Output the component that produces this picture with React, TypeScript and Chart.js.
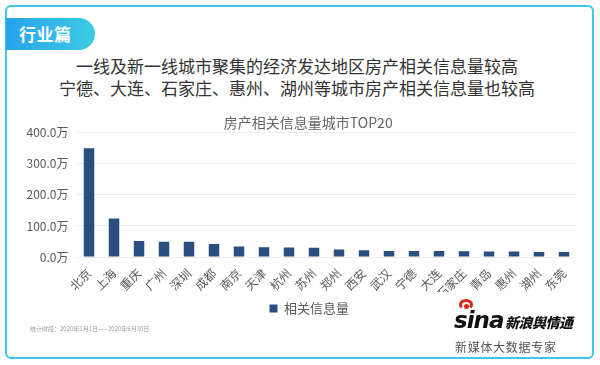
import React, { useEffect, useRef } from "react";
import Chart from "chart.js/auto";

const categories = ["北京", "上海", "重庆", "广州", "深圳", "成都", "南京", "天津", "杭州", "苏州", "郑州", "西安", "武汉", "宁德", "大连", "石家庄", "青岛", "惠州", "湖州", "东莞"];
const infoVolume = [350, 124, 51.5, 49.5, 49.5, 42, 33.5, 31.5, 30.5, 30, 24, 21.5, 19.5, 19.5, 19, 18.5, 18, 18, 16.5, 16.5];
const yTicks = [0, 100, 200, 300, 400];
const seriesName = "相关信息量";
const chartTitle = "房产相关信息量城市TOP20";
const headline1 = "一线及新一线城市聚集的经济发达地区房产相关信息量较高";
const headline2 = "宁德、大连、石家庄、惠州、湖州等城市房产相关信息量也较高";
const tabLabel = "行业篇";
const footnote = "统计时段：2020年1月1日——2020年6月30日";
const brandSub = "新媒体大数据专家";

const FONT = '"Noto Sans CJK SC", "Noto Sans", sans-serif';

const shiftBoxes = {
  id: "shiftBoxes",
  afterLayout(chart: any) {
    const lg = chart.legend;
    if (lg) {
      lg.left += 15;
      lg.right += 15;
    }
    const tb = chart.titleBlock;
    if (tb) {
      tb.left += 14;
      tb.right += 14;
    }
  },
};

function BarChart() {
  const ref = useRef<HTMLCanvasElement | null>(null);
  useEffect(() => {
    if (!ref.current) return;
    const chart = new Chart(ref.current, {
      type: "bar",
      data: {
        labels: categories,
        datasets: [
          {
            label: seriesName,
            data: infoVolume,
            backgroundColor: "#2a4e80",
            borderWidth: 0,
            barPercentage: 0.42,
            categoryPercentage: 1,
          },
        ],
      },
      options: {
        animation: false,
        responsive: false,
        maintainAspectRatio: false,
        layout: { padding: { left: 12, right: 23.5, top: 0, bottom: 5 } },
        plugins: {
          title: {
            display: true,
            text: chartTitle,
            color: "#666666",
            font: { family: FONT, size: 14, weight: "normal" },
            padding: { top: 9, bottom: 2 },
          },
          legend: {
            display: true,
            position: "bottom",
            labels: {
              color: "#595959",
              font: { family: FONT, size: 13 },
              boxWidth: 8,
              boxHeight: 8,
              padding: 10,
            },
          },
          tooltip: { enabled: false },
        },
        scales: {
          x: {
            grid: { display: false, drawTicks: false },
            border: { display: false },
            ticks: {
              color: "#595959",
              font: { family: FONT, size: 12 },
              minRotation: 45,
              maxRotation: 45,
              autoSkip: false,
              padding: 9,
            },
            afterFit: (s: any) => {
              s.height = 35;
            },
          },
          y: {
            min: 0,
            max: 400,
            afterBuildTicks: (s: any) => {
              s.ticks = yTicks.map((v) => ({ value: v }));
            },
            grid: { color: "#ebebeb", drawTicks: false, lineWidth: 1 },
            border: { display: false },
            ticks: {
              color: "#595959",
              font: { family: FONT, size: 12 },
              padding: 8,
              callback: (v: any) => `${Number(v).toFixed(1)}万`,
            },
            afterFit: (s: any) => {
              s.width = 64.5;
            },
          },
        },
      },
      plugins: [shiftBoxes],
    });
    return () => chart.destroy();
  }, []);
  return <canvas ref={ref} width={600} height={225} style={{ position: "absolute", left: 0, top: 105, width: 600, height: 225 }} />;
}

export default function App() {
  return (
    <div style={{ position: "fixed", left: 0, top: 0, width: 600, height: 365, background: "#ffffff", overflow: "hidden", fontFamily: FONT }}>
      <div style={{ position: "absolute", left: 5, top: 5, width: 585, height: 350, border: "2px solid #3ec6e6", borderRadius: 6, boxSizing: "content-box" }} />
      <div style={{ position: "absolute", left: 6, top: 18, width: 89, height: 32, borderRadius: "0 16px 16px 0", background: "linear-gradient(90deg, #27a3ec 0%, #3ccbe2 100%)" }} />
      <div style={{ position: "absolute", left: 19, top: 22, height: 24, lineHeight: "24px", fontSize: 17, fontWeight: 700, color: "#ffffff", letterSpacing: 0.5 }}>{tabLabel}</div>
      <div style={{ position: "absolute", left: 0, width: 594, top: 55, textAlign: "center", fontSize: 17, lineHeight: "22px", color: "#333333", fontWeight: 400 }}>
        <div>{headline1}</div>
        <div>{headline2}</div>
      </div>
      <BarChart />
      <div style={{ position: "absolute", left: 30, top: 325, fontSize: 6, lineHeight: "8px", color: "#9a9a9a", whiteSpace: "nowrap" }}>{footnote}</div>
      <div style={{ position: "absolute", left: 459, top: 299, width: 14, height: 11, borderRadius: "50%", border: "3px solid #e2231a", borderBottomColor: "transparent", boxSizing: "border-box" }} />
      <div style={{ position: "absolute", left: 464, top: 304, width: 5, height: 5, borderRadius: "50%", background: "#e2231a" }} />
      <div style={{ position: "absolute", left: 454, top: 308, fontSize: 23, lineHeight: "24px", fontWeight: 900, fontStyle: "italic", color: "#111111", fontFamily: '"DejaVu Sans", sans-serif', letterSpacing: -1 }}>sina</div>
      <div style={{ position: "absolute", left: 505, top: 313, fontSize: 14, lineHeight: "18px", fontWeight: 900, fontStyle: "italic", color: "#111111", letterSpacing: -0.5 }}>新浪舆情通</div>
      <div style={{ position: "absolute", left: 455, top: 339, fontSize: 12, lineHeight: "16px", color: "#555555", letterSpacing: 0.7, whiteSpace: "nowrap" }}>{brandSub}</div>
    </div>
  );
}
